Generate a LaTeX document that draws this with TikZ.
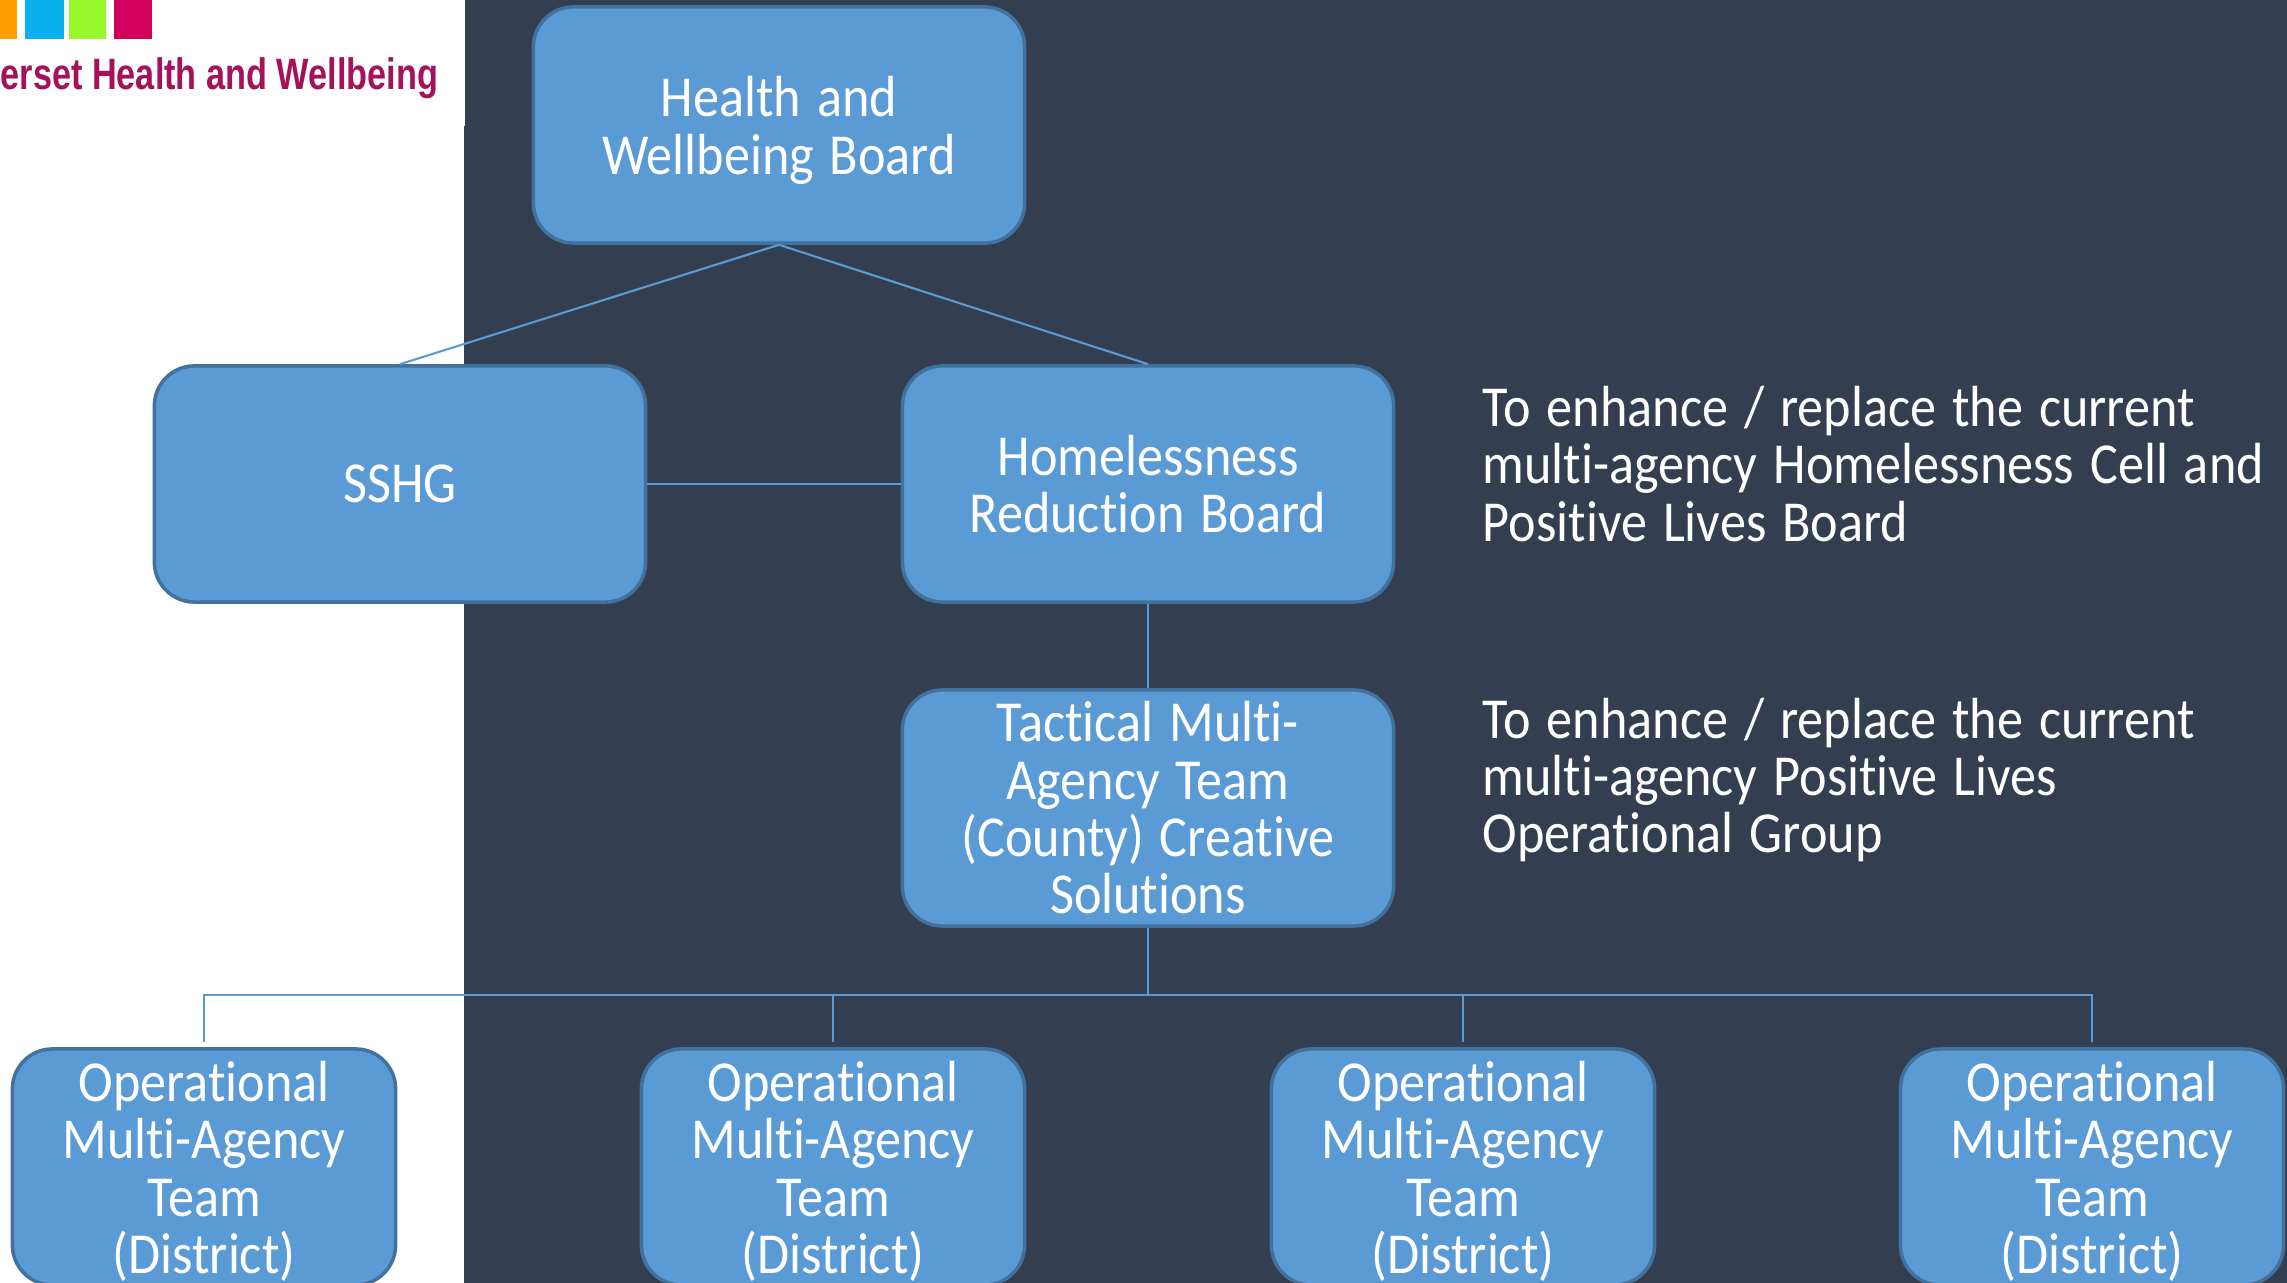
\documentclass[tikz,border=0pt]{standalone}
\usepackage{fontspec}
\setmainfont[FakeStretch=0.9, WordSpace=1.35, Ligatures=NoCommon]{Carlito}
\newfontfamily\logofont{Liberation Sans}
\definecolor{slate}{HTML}{333F50}
\definecolor{boxblue}{HTML}{5B9BD5}
\definecolor{boxedge}{HTML}{41719C}
\definecolor{logotext}{HTML}{A5125A}
\definecolor{logoorange}{HTML}{FF9E00}
\definecolor{logoblue}{HTML}{0BB0EE}
\definecolor{logogreen}{HTML}{96F82A}
\definecolor{logopink}{HTML}{D1005F}
\tikzset{
  board/.style={draw=boxedge, line width=1pt, fill=boxblue, rounded corners=0.4cm, text=white,
    align=center, font=\fontsize{16.5}{16.3}\selectfont, inner sep=0pt, minimum width=4.91cm, minimum height=2.36cm},
  district/.style={board, minimum width=3.83cm, minimum height=2.36cm},
  note/.style={anchor=west, align=left, text=white, inner sep=0pt, font=\fontsize{16.5}{16.3}\selectfont},
  link/.style={draw=boxblue, line width=0.6pt}
}
\begin{document}
\begin{tikzpicture}[x=0.01cm, y=-0.01cm]
      \useasboundingbox (0,0) rectangle (2287,1283);
      \fill[white] (0,0) rectangle (2287,1283);
      \fill[slate] (465,0) rectangle (2287,126) (464,126) rectangle (2287,1283);

      \fill[logoorange] (0,0) rectangle (17,39);
      \fill[logoblue] (25,0) rectangle (64,39);
      \fill[logogreen] (69,0) rectangle (106,39);
      \fill[logopink] (114,0) rectangle (152,39);
      \node[anchor=base west, inner sep=0pt, text=logotext, font=\logofont\bfseries\fontsize{12.5}{15}\selectfont] (logo) at (0,90) {\scalebox{0.78}[1]{erset Health and Wellbeing}};

      \node[board](hwb) at (779,125) {\rule{0pt}{14.5pt}Health and\\Wellbeing Board};
      \node[board](sshg) at (400,484) {SSHG};
      \node[board](hrb) at (1148,484) {Homelessness\\Reduction Board};
      \node[board](tmt) at (1148,808) {Tactical Multi-\\Agency Team\\(County) Creative\\Solutions};

      \foreach \name/\x in {opa/204, opb/833, opc/1463, opd/2092} {
        \node[district](\name) at (\x,1167) {\rule{0pt}{14pt}Operational\\Multi-Agency\\Team\\(District)};
      }

      \node[note](cell) at (1482,464) {To enhance / replace the current\\multi-agency Homelessness Cell and\\Positive Lives Board};
      \node[note](group) at (1482,780) {To enhance / replace the current\\multi-agency Positive Lives\\Operational Group};

      \coordinate (bus) at (1148,995);

      \draw[link] (hwb.south) -- (sshg.north);
      \draw[link] (hwb.south) -- (hrb.north);
      \draw[link] (sshg.east) -- (hrb.west);
      \draw[link] (hrb.south) -- (tmt.north);
      \draw[link] (tmt.south) -- (bus);
      \foreach \name in {opa, opb, opc, opd} {
        \draw[link] (bus) -| ([yshift=1.4pt]\name.north);
      }
    \end{tikzpicture}
\end{document}
